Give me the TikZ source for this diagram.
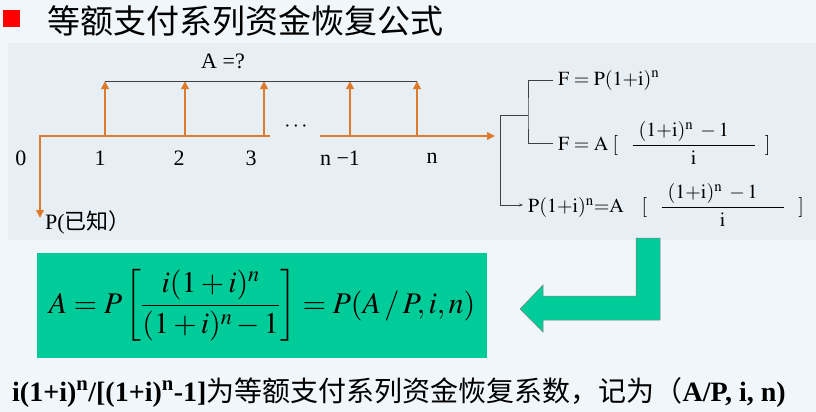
\documentclass[tikz,border=0pt]{standalone}
\usepackage{mathptmx}
\usepackage{fontspec}
\setmainfont{Liberation Serif}
\newfontfamily\cjk{Noto Sans CJK SC}
\usetikzlibrary{arrows.meta,positioning}
\definecolor{orangeaxe}{HTML}{DE7A2C}
\definecolor{vertbox}{HTML}{00CC99}
\definecolor{fondclair}{HTML}{F1F6FA}
\definecolor{fondimg}{HTML}{E7EFF5}
\tikzset{
  axe/.style={draw=orangeaxe, line width=2.6pt},
  fleche/.style={axe, -{Triangle[length=8pt,width=7.5pt]}},
  lien/.style={draw=black!75, line width=0.6pt},
  etiq/.style={inner sep=0pt, font=\fontsize{22}{26}\selectfont},
  formule/.style={inner sep=5pt, anchor=west, font=\fontsize{20}{24}\selectfont}
}
\newcommand{\frci}{{\displaystyle\frac{\hspace{6pt}\mathrm{(1{+}i)^{n}}\;-1\hspace{26pt}}{\mathrm{i}}}}
\begin{document}
\begin{tikzpicture}[x=1pt,y=-1pt]
                % Fond et titre
                \useasboundingbox[fill=fondclair] (0,0) rectangle (816,412);
                \fill[fondimg] (8,43) rectangle (816,240);
                \fill[red] (3,10) rectangle (20,27);
                \node[anchor=west, inner sep=0pt, font=\fontsize{33}{33}\selectfont] (titre) at (47,21) {{\cjk 等额支付系列资金恢复公式}};

                % Axe du temps
                \coordinate (o) at (40,136);
                \coordinate (c1) at (105,136);
                \coordinate (c2) at (185,136);
                \coordinate (c3) at (264,136);
                \coordinate (c4) at (350,136);
                \coordinate (c5) at (417,136);
                \coordinate (coupe1) at (270,136);
                \coordinate (coupe2) at (320,136);
                \coordinate (fin) at (495,136);
                \coordinate (bas) at (40,218);
                \draw[axe, {Triangle[length=8pt,width=7.5pt]}-] (bas) -- (o) -- (coupe1);
                \draw[fleche] (coupe2) -- (fin);

                % Annuités A
                \coordinate (h1) at (105,81);
                \coordinate (h2) at (185,81);
                \coordinate (h3) at (264,81);
                \coordinate (h4) at (350,81);
                \coordinate (h5) at (417,81);
                \draw[fleche] (c1) -- (h1);
                \draw[fleche] (c2) -- (h2);
                \draw[fleche] (c3) -- (h3);
                \draw[fleche] (c4) -- (h4);
                \draw[fleche] (c5) -- (h5);
                \draw[lien] (h1) -- (h5);
                \node[etiq] (a) at (223,61) {A =?};

                % Périodes
                \node[etiq] (t0) at (21,158) {0};
                \node[etiq] (t1) at (100,158) {1};
                \node[etiq] (t2) at (179,158) {2};
                \node[etiq] (t3) at (251,158) {3};
                \node[etiq] (t4) at (340,158) {n −1};
                \node[etiq] (t5) at (432,158) {n};
                \node[etiq] (pts) at (296,127) {$\cdots$};
                \node[etiq, anchor=west] (p) at (45,222) {P({\cjk 已知）}};

                % Formules de droite
                \node[formule] (f1) at (553,80) {$\mathrm{F = P(1{+}i)^{n}}$};
                \node[formule] (f2) at (553,143) {$\mathrm{F =A}\;[\;\;\;\frci\;\;]$};
                \node[formule] (f3) at (523,205) {$\mathrm{P(1{+}i)^{n}{=}A}\;\;\;\;[\;\;\;\frci\;\;\;]$};
                \coordinate (m) at (528,115);
                \coordinate (b1) at (500,115);
                \draw[lien] (f1.west) -| (m) |- (f2.west);
                \draw[lien, -{Stealth[length=4pt,width=3pt]}] (m) -- (b1) |- (f3.west);

                % Formule encadrée
                \node[fill=vertbox, minimum width=450pt, minimum height=105pt, inner sep=0pt,
                      font=\fontsize{30}{36}\selectfont] (res) at (262,305.5)
                      {$\displaystyle A=P\left[\frac{i(1+i)^{n}}{(1+i)^{n}-1}\right]=P(A\,/\,P,i,n)$};

                % Flèche coudée
                \draw[fill=vertbox, draw=gray, line width=0.5pt]
                      (636,238) -- (660,238) -- (660,320) -- (543,320) -- (543,332)
                      -- (520,309) -- (543,285) -- (543,296) -- (636,296) -- cycle;

                % Texte du bas
                \node[anchor=west, inner sep=0pt, font=\fontsize{28}{30}\selectfont] (note) at (12,392)
                      {{\bfseries i(1+i)\textsuperscript{n}/[(1+i)\textsuperscript{n}-1]}{\cjk 为等额支付系列资金恢复系数，记为（}{\bfseries A/P, i, n)}};
            \end{tikzpicture}
\end{document}
